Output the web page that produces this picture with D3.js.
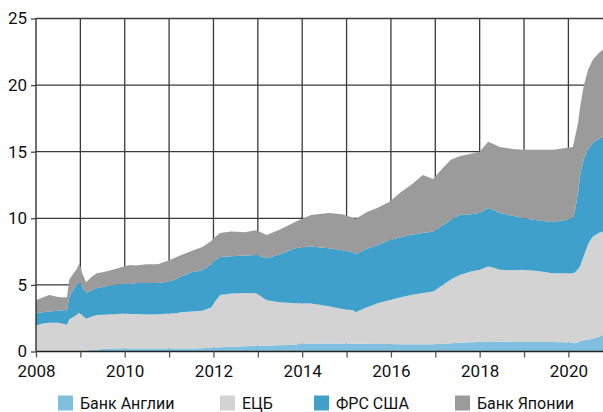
<!DOCTYPE html>
<html><head><meta charset="utf-8">
<script src="https://cdn.jsdelivr.net/npm/d3@7"></script>
<style>body{margin:0;background:#fff}svg{display:block}text{font-family:Roboto,"Noto Sans",sans-serif;fill:#111}</style>
</head><body>
<svg id="c" width="603" height="412"></svg>
<script>
// decimal years
const dates = [2008.00,2008.15,2008.30,2008.50,2008.65,2008.70,2008.75,2008.85,2008.92,2008.98,2009.05,2009.13,2009.25,2009.37,2009.50,2009.75,2010.00,2010.12,2010.25,2010.50,2010.75,2011.00,2011.17,2011.25,2011.50,2011.75,2011.95,2012.00,2012.15,2012.40,2012.70,2012.97,2013.20,2013.50,2013.85,2013.95,2014.20,2014.60,2014.90,2015.15,2015.20,2015.45,2015.70,2015.97,2016.20,2016.45,2016.72,2016.95,2017.15,2017.35,2017.55,2017.80,2018.00,2018.19,2018.30,2018.45,2018.75,2018.98,2019.30,2019.65,2019.90,2020.10,2020.15,2020.22,2020.27,2020.35,2020.45,2020.55,2020.68,2020.78];
// cumulative tops (trillion USD)
const topBoE = [0.00,0.00,0.00,0.00,0.00,0.00,0.00,0.00,0.02,0.03,0.05,0.08,0.12,0.15,0.18,0.22,0.24,0.23,0.22,0.22,0.22,0.22,0.22,0.22,0.22,0.25,0.28,0.30,0.32,0.35,0.40,0.44,0.45,0.47,0.50,0.60,0.60,0.60,0.60,0.58,0.58,0.58,0.57,0.56,0.55,0.55,0.55,0.55,0.58,0.62,0.65,0.70,0.72,0.75,0.75,0.74,0.72,0.72,0.71,0.71,0.70,0.68,0.62,0.70,0.78,0.85,0.90,0.95,1.10,1.24];
const topECB = [1.95,2.10,2.15,2.15,2.05,2.00,2.40,2.60,2.75,2.90,2.70,2.45,2.60,2.74,2.75,2.80,2.85,2.82,2.82,2.78,2.80,2.85,2.87,2.95,3.00,3.05,3.30,3.60,4.25,4.35,4.40,4.38,3.85,3.70,3.62,3.62,3.60,3.40,3.20,3.10,2.95,3.30,3.62,3.87,4.05,4.25,4.40,4.50,4.95,5.40,5.75,6.00,6.13,6.38,6.30,6.13,6.10,6.13,6.05,5.88,5.88,5.88,5.95,6.20,6.45,7.20,8.10,8.63,8.90,9.00];
const topFed = [2.85,2.95,3.00,3.05,3.10,3.10,4.10,4.70,5.00,5.25,4.80,4.40,4.60,4.75,4.85,5.00,5.10,5.05,5.15,5.15,5.15,5.25,5.45,5.60,5.95,6.10,6.55,6.75,7.10,7.15,7.20,7.25,7.00,7.30,7.75,7.80,7.88,7.76,7.60,7.45,7.30,7.70,8.00,8.38,8.55,8.76,8.90,9.00,9.45,9.90,10.25,10.30,10.40,10.77,10.65,10.39,10.20,10.00,9.85,9.70,9.85,10.00,10.60,12.00,13.40,14.50,15.20,15.65,15.95,16.15];
const topBoJ = [3.85,4.05,4.25,4.10,4.05,4.10,5.40,5.90,6.20,6.65,5.80,5.20,5.60,5.88,5.95,6.15,6.40,6.50,6.45,6.55,6.55,6.85,7.10,7.20,7.55,7.85,8.30,8.50,8.90,9.00,8.95,9.10,8.75,9.15,9.75,9.90,10.25,10.40,10.30,10.05,9.95,10.45,10.80,11.25,11.90,12.50,13.25,12.95,13.70,14.40,14.65,14.85,15.00,15.75,15.60,15.35,15.20,15.15,15.15,15.15,15.25,15.35,16.10,17.20,18.50,20.00,21.20,21.90,22.40,22.67];
// individual series values
const boe = topBoE.slice();
const ecb = topECB.map((v,i)=>+(v-topBoE[i]).toFixed(2));
const fed = topFed.map((v,i)=>+(v-topECB[i]).toFixed(2));
const boj = topBoJ.map((v,i)=>+(v-topFed[i]).toFixed(2));
const seriesNames = ["Банк Англии","ЕЦБ","ФРС США","Банк Японии"];
const seriesColors = ["#80c0de","#d3d3d3","#3ea0cb","#9b9b9b"];
const yTicks = [0,5,10,15,20,25];
const xTickYears = [2008,2009,2010,2011,2012,2013,2014,2015,2016,2017,2018,2019,2020];
const xLabelYears = [2008,2010,2012,2014,2016,2018,2020];

const rows = dates.map((d,i)=>({date:d,"Банк Англии":boe[i],"ЕЦБ":ecb[i],"ФРС США":fed[i],"Банк Японии":boj[i]}));
const svg = d3.select("#c");
const L=36,R=603,T=18.5,B=351.5;
const x = d3.scaleLinear().domain([2008,2020.78]).range([L,R]);
const y = d3.scaleLinear().domain([0,25]).range([B,T]);

// grid
const g = svg.append("g");
g.selectAll(".h").data(yTicks.filter(v=>v>0)).join("line")
 .attr("x1",L).attr("x2",R).attr("y1",d=>y(d)).attr("y2",d=>y(d))
 .attr("stroke","#3a3a3a").attr("stroke-width",1.3);
g.selectAll(".v").data(xTickYears.filter(v=>v>2008)).join("line")
 .attr("x1",d=>x(d)).attr("x2",d=>x(d)).attr("y1",T).attr("y2",B)
 .attr("stroke","#3a3a3a").attr("stroke-width",1.3);

const stack = d3.stack().keys(seriesNames);
const layers = stack(rows);
const area = d3.area().x(d=>x(d.data.date)).y0(d=>y(d[0])).y1(d=>y(d[1]));
svg.append("g").selectAll("path").data(layers).join("path")
 .attr("d",area).attr("fill",(d,i)=>seriesColors[i]);

// axes lines
svg.append("line").attr("x1",L).attr("x2",L).attr("y1",T).attr("y2",B).attr("stroke","#222").attr("stroke-width",1.3);
svg.append("line").attr("x1",L).attr("x2",R).attr("y1",B).attr("y2",B).attr("stroke","#222").attr("stroke-width",1.3);

const yAxis = d3.axisLeft(y).tickValues(yTicks).tickSize(5).tickFormat(d3.format("d"));
const ya = svg.append("g").attr("transform",`translate(${L},0)`).call(yAxis);
ya.select(".domain").remove();
ya.selectAll("line").attr("stroke","#444").attr("stroke-width",1.3);
ya.selectAll("text").attr("font-size",17).attr("fill","#111").attr("dx",-1).style("font-family","Roboto");

const xAxis = d3.axisBottom(x).tickValues(xTickYears).tickSize(6).tickFormat(d=>xLabelYears.includes(d)?String(d):"");
const xa = svg.append("g").attr("transform",`translate(0,${B})`).call(xAxis);
xa.select(".domain").remove();
xa.selectAll("line").attr("stroke","#555").attr("stroke-width",1.3);
xa.selectAll("text").attr("font-size",17).attr("fill","#111").attr("dy","0.95em").style("font-family","Roboto");

// legend
const legX = [58,220,314,455];
const lg = svg.append("g");
seriesNames.forEach((n,i)=>{
  lg.append("rect").attr("x",legX[i]).attr("y",395.5).attr("width",15).attr("height",15).attr("fill",seriesColors[i]);
  lg.append("text").attr("x",legX[i]+22).attr("y",409).attr("font-size",16).text(n);
});
</script>
</body></html>
